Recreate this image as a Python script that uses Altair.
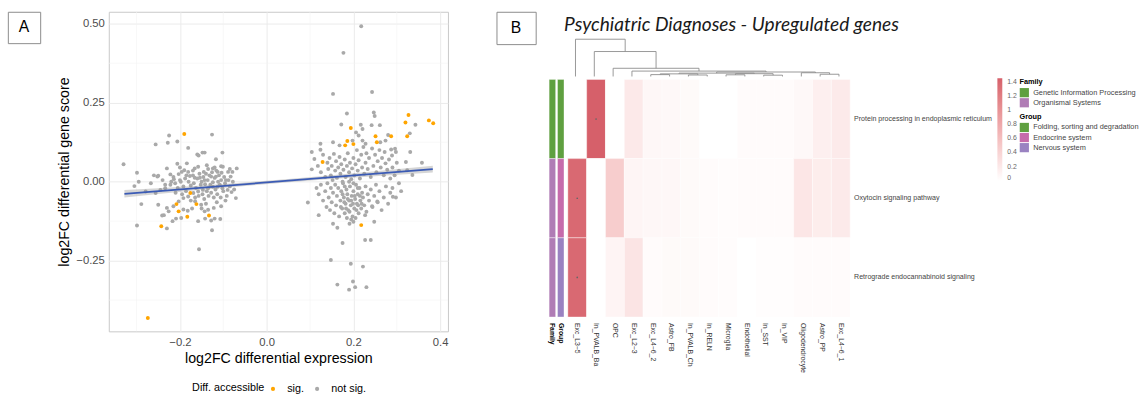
import altair as alt
import pandas as pd

# ---------------- Panel A data ----------------
grey_pts = [
    # left cluster
    (-0.330, 0.055), (-0.225, 0.146), (-0.256, 0.118), (-0.228, 0.123), (-0.206, 0.127), (-0.126, 0.149),
    (-0.181, 0.107), (-0.160, 0.086), (-0.157, 0.083), (-0.148, 0.092), (-0.143, 0.092), (-0.102, 0.092),
    (-0.117, 0.071), (-0.138, 0.052), (-0.206, 0.057), (-0.184, 0.058), (-0.230, 0.042), (-0.299, 0.028),
    (-0.295, 0.000), (-0.305, -0.014), (-0.267, -0.005), (-0.252, 0.016), (-0.250, 0.019), (-0.234, -0.010),
    (-0.222, 0.023), (-0.214, 0.008), (-0.203, 0.024), (-0.196, 0.031), (-0.190, 0.036), (-0.181, 0.031),
    (-0.166, 0.042), (-0.158, 0.047), (-0.145, 0.031), (-0.135, 0.040), (-0.124, 0.042), (-0.113, 0.031),
    (-0.105, 0.049), (-0.101, 0.047), (-0.089, 0.031), (-0.079, 0.031), (-0.069, 0.042), (-0.083, 0.016),
    (-0.094, 0.005), (-0.105, 0.005), (-0.117, 0.016), (-0.128, 0.016), (-0.143, 0.005), (-0.154, 0.0125),
    (-0.166, 0.0125), (-0.177, 0.018), (-0.188, 0.010), (-0.200, 0.005), (-0.211, -0.005), (-0.222, -0.010),
    (-0.234, -0.021), (-0.245, -0.026), (-0.256, -0.036), (-0.279, -0.031), (-0.289, -0.071), (-0.250, -0.073),
    (-0.230, -0.083), (-0.215, -0.078), (-0.203, -0.0625), (-0.192, -0.052), (-0.181, -0.047), (-0.169, -0.036),
    (-0.158, -0.031), (-0.147, -0.026), (-0.135, -0.021), (-0.124, -0.016), (-0.113, -0.016), (-0.102, -0.021),
    (-0.090, -0.026), (-0.081, -0.033), (-0.071, -0.052), (-0.105, -0.078), (-0.122, -0.083), (-0.135, -0.089),
    (-0.143, -0.094), (-0.151, -0.073), (-0.165, -0.062), (-0.172, -0.085), (-0.182, -0.092), (-0.192, -0.088),
    (-0.197, -0.115), (-0.209, -0.117), (-0.217, -0.125), (-0.226, -0.094), (-0.237, -0.106), (-0.241, -0.107),
    (-0.230, -0.148), (-0.299, -0.139), (-0.158, -0.125), (-0.142, -0.117), (-0.128, -0.123), (-0.120, -0.117),
    (-0.107, -0.118), (-0.126, -0.154), (-0.156, -0.214),
    (-0.215, 0.015), (-0.205, -0.020), (-0.198, 0.000), (-0.192, -0.015), (-0.186, -0.030), (-0.180, 0.000),
    (-0.175, -0.012), (-0.170, 0.020), (-0.168, -0.005), (-0.163, -0.020), (-0.160, 0.010), (-0.157, -0.045),
    (-0.155, 0.025), (-0.152, -0.010), (-0.150, 0.000), (-0.148, -0.040), (-0.146, 0.015), (-0.144, -0.055),
    (-0.142, -0.008), (-0.140, 0.025), (-0.138, -0.030), (-0.136, 0.005), (-0.134, -0.045), (-0.132, 0.020),
    (-0.130, -0.010), (-0.128, -0.035), (-0.126, 0.030), (-0.124, -0.002), (-0.122, -0.050), (-0.120, 0.012),
    (-0.118, -0.025), (-0.116, 0.035), (-0.114, -0.040), (-0.112, 0.000), (-0.110, 0.020), (-0.108, -0.010),
    (-0.106, -0.050), (-0.104, 0.028), (-0.100, -0.030), (-0.098, 0.015), (-0.096, -0.005), (-0.092, -0.045),
    (-0.088, 0.005), (-0.085, -0.015), (-0.078, 0.000), (-0.075, -0.025), (-0.185, 0.020), (-0.195, -0.040),
    (-0.210, -0.035), (-0.220, 0.000), (-0.175, -0.060), (-0.165, -0.050), (-0.140, -0.070), (-0.115, -0.065),
    (-0.095, -0.060), (-0.085, 0.040), (-0.120, 0.045), (-0.150, -0.085), (-0.170, 0.035), (-0.200, 0.045),
    (-0.240, 0.005), (-0.260, 0.020),
    # right cluster
    (0.218, 0.492), (0.177, 0.408), (0.153, 0.278), (0.243, 0.284), (0.185, 0.216), (0.247, 0.219),
    (0.249, 0.208), (0.172, 0.181), (0.217, 0.180), (0.242, 0.179), (0.261, 0.179), (0.343, 0.180),
    (0.330, 0.153), (0.221, 0.167), (0.206, 0.156), (0.212, 0.146), (0.274, 0.130), (0.280, 0.148),
    (0.262, 0.125), (0.228, 0.120), (0.221, 0.130), (0.198, 0.130), (0.153, 0.125), (0.168, 0.115),
    (0.124, 0.120), (0.124, 0.101), (0.104, 0.094), (0.287, 0.102), (0.296, 0.104), (0.298, 0.094),
    (0.289, 0.083), (0.272, 0.094), (0.331, 0.094), (0.321, 0.0625), (0.358, 0.060), (0.336, 0.021),
    (0.324, 0.036), (0.095, -0.066), (0.120, -0.106), (0.153, -0.133), (0.163, -0.146), (0.191, -0.133),
    (0.200, -0.127), (0.227, -0.106), (0.248, -0.127), (0.227, -0.185), (0.240, -0.185), (0.175, -0.194),
    (0.148, -0.248), (0.194, -0.260), (0.222, -0.269), (0.163, -0.326), (0.199, -0.316), (0.190, -0.342),
    (0.204, -0.334), (0.230, -0.334), (0.291, -0.048), (0.255, -0.0625), (0.243, -0.078), (0.104, 0.039),
    (0.110, 0.072), (0.118, 0.050), (0.125, 0.030), (0.130, 0.085), (0.135, 0.015), (0.140, 0.060),
    (0.142, 0.040), (0.145, 0.075), (0.148, 0.020), (0.150, 0.050), (0.152, 0.005), (0.155, 0.088),
    (0.158, 0.035), (0.160, 0.065), (0.162, 0.012), (0.165, 0.045), (0.168, 0.078), (0.170, 0.025),
    (0.172, 0.055), (0.175, 0.000), (0.177, 0.038), (0.180, 0.070), (0.182, 0.015), (0.185, 0.050),
    (0.187, 0.090), (0.190, 0.030), (0.192, 0.060), (0.195, 0.008), (0.197, 0.042), (0.200, 0.075),
    (0.202, 0.020), (0.205, 0.055), (0.208, 0.100), (0.210, 0.035), (0.212, 0.068), (0.215, 0.010),
    (0.218, 0.085), (0.220, 0.045), (0.223, 0.110), (0.225, 0.025), (0.228, 0.060), (0.230, 0.090),
    (0.233, 0.040), (0.236, 0.075), (0.240, 0.015), (0.243, 0.105), (0.246, 0.050), (0.250, 0.085),
    (0.253, 0.030), (0.256, 0.065), (0.260, 0.100), (0.263, 0.045), (0.266, 0.075), (0.270, 0.020),
    (0.274, 0.058), (0.278, 0.038), (0.282, 0.070), (0.285, 0.010), (0.290, 0.045), (0.295, 0.020),
    (0.300, 0.060), (0.305, 0.035),
    (0.115, -0.020), (0.120, -0.040), (0.125, -0.010), (0.130, -0.060), (0.135, -0.030), (0.138, -0.080),
    (0.140, -0.005), (0.143, -0.050), (0.146, -0.090), (0.148, -0.020), (0.150, -0.065), (0.153, -0.035),
    (0.156, -0.100), (0.158, -0.010), (0.160, -0.075), (0.162, -0.045), (0.165, -0.020), (0.167, -0.110),
    (0.170, -0.060), (0.172, -0.030), (0.174, -0.085), (0.176, -0.005), (0.178, -0.050), (0.180, -0.100),
    (0.182, -0.070), (0.184, -0.025), (0.186, -0.040), (0.188, -0.090), (0.190, -0.060), (0.192, -0.015),
    (0.194, -0.075), (0.196, -0.045), (0.198, -0.110), (0.200, -0.030), (0.202, -0.085), (0.204, -0.055),
    (0.206, -0.010), (0.208, -0.070), (0.210, -0.040), (0.212, -0.100), (0.214, -0.020), (0.216, -0.060),
    (0.218, -0.085), (0.220, -0.035), (0.222, -0.050), (0.225, -0.075), (0.228, -0.015), (0.230, -0.095),
    (0.233, -0.040), (0.236, -0.060), (0.240, -0.025), (0.244, -0.080), (0.248, -0.045), (0.252, -0.010),
    (0.256, -0.065), (0.260, -0.030), (0.265, -0.090), (0.270, -0.050), (0.275, -0.015), (0.280, -0.070),
    (0.285, -0.035), (0.290, -0.020), (0.298, -0.050), (0.305, -0.005), (0.310, -0.030),
    (0.171, -0.080), (0.179, -0.065), (0.183, -0.085), (0.187, -0.055), (0.191, -0.095), (0.195, -0.060),
    (0.199, -0.070), (0.203, -0.045), (0.207, -0.090), (0.211, -0.075), (0.215, -0.045), (0.219, -0.070),
    (0.185, -0.115), (0.195, -0.120), (0.205, -0.115), (0.175, -0.040), (0.210, -0.020), (0.190, 0.000),
    (0.200, -0.005), (0.180, -0.015),
]
sig_pts = [
    (-0.190, 0.151), (-0.176, -0.036), (-0.208, -0.071), (-0.162, -0.071), (-0.203, -0.094),
    (-0.183, -0.111), (-0.133, -0.107), (-0.243, -0.141), (-0.274, -0.432),
    (0.327, 0.211), (0.320, 0.1875), (0.374, 0.194), (0.384, 0.185), (0.324, 0.144), (0.287, 0.144),
    (0.251, 0.144), (0.254, 0.125), (0.194, 0.170), (0.186, 0.129), (0.200, 0.119), (0.181, 0.115),
    (0.218, -0.1375), (0.129, 0.0625),
]
acc_levels = ["sig.", "not sig."]
acc_colors = ["#FFA500", "#A9A9A9"]

fit_slope = 0.110
fit_intercept = -0.0024
fit_x = [-0.328, 0.383]
band_x = [-0.328, -0.25, -0.15, -0.05, 0.05, 0.15, 0.25, 0.383]
band_half = [0.012, 0.009, 0.007, 0.0055, 0.005, 0.006, 0.008, 0.011]

x_ticks = [-0.2, 0.0, 0.2, 0.4]
x_minor = [-0.3, -0.1, 0.1, 0.3]
y_ticks = [-0.25, 0.0, 0.25, 0.5]
y_minor = [-0.375, -0.125, 0.125, 0.375]
x_domain = [-0.364, 0.418]
y_domain = [-0.474, 0.538]

# ---------------- Panel B data ----------------
title_B = "Psychiatric Diagnoses - Upregulated genes"
cols = ["Exc_L3−5", "In_PVALB_Ba", "OPC", "Exc_L2−3", "Exc_L4−6_2", "Astro_FB", "In_PVALB_Ch",
        "In_RELN", "Microglia", "Endothelial", "In_SST", "In_VIP", "Oligodendrocyte", "Astro_PP", "Exc_L4−6_1"]
rows = ["Protein processing in endoplasmic reticulum", "Oxytocin signaling pathway",
        "Retrograde endocannabinoid signaling"]
vals = [
    [0.00, 1.45, 0.00, 0.20, 0.07, 0.06, 0.05, 0.00, 0.00, 0.04, 0.04, 0.04, 0.06, 0.15, 0.19],
    [1.37, 0.00, 0.46, 0.09, 0.07, 0.07, 0.05, 0.04, 0.03, 0.04, 0.04, 0.04, 0.23, 0.17, 0.19],
    [1.37, 0.00, 0.10, 0.25, 0.04, 0.05, 0.05, 0.04, 0.03, 0.00, 0.02, 0.02, 0.04, 0.04, 0.04],
]
sig_cells = [(0, 1), (1, 0), (2, 0)]
family = ["Genetic Information Processing", "Organismal Systems", "Organismal Systems"]
group = ["Folding, sorting and degradation", "Endocrine system", "Nervous system"]
fam_names = ["Genetic Information Processing", "Organismal Systems"]
fam_colors = ["#5FA040", "#B07CB5"]
grp_names = ["Folding, sorting and degradation", "Endocrine system", "Nervous system"]
grp_colors = ["#5FA040", "#C66BAB", "#9A82C1"]
legend_values = [0, 0.2, 0.4, 0.6, 0.8, 1.0, 1.2, 1.4]

# dendrogram: (left child, right child, height); leaves are 0..14, merges are "m<i>"
merges = [
    (4, 5, 0.05), (6, 7, 0.04), (8, 9, 0.045), (10, 11, 0.035), (13, 14, 0.06),
    ("m0", "m1", 0.07), ("m2", "m3", 0.075), ("m5", "m6", 0.09), (12, "m4", 0.10),
    ("m7", "m8", 0.12), (3, "m9", 0.145), (2, "m10", 0.22), (1, "m11", 0.67), (0, "m12", 1.0),
]

FONT = "Liberation Sans"

# ---------------- Panel A chart ----------------
pts_df = pd.DataFrame(
    [(x, y, "not sig.", 0) for x, y in grey_pts] + [(x, y, "sig.", 1) for x, y in sig_pts],
    columns=["x", "y", "acc", "ord"],
)
line_df = pd.DataFrame({"x": fit_x, "y": [fit_intercept + fit_slope * v for v in fit_x]})
band_df = pd.DataFrame({
    "x": band_x,
    "lo": [fit_intercept + fit_slope * v - h for v, h in zip(band_x, band_half)],
    "hi": [fit_intercept + fit_slope * v + h for v, h in zip(band_x, band_half)],
})

XT = "log2FC differential expression"
YT = "log2FC differential gene score"
xscale = alt.Scale(domain=x_domain, nice=False, zero=False)
yscale = alt.Scale(domain=y_domain, nice=False, zero=False)
xaxis = alt.Axis(values=x_ticks, format=".1f", grid=True, gridColor="#EBEBEB", gridWidth=1,
                 ticks=False, domain=False, labelFontSize=11.5, labelColor="#4D4D4D", labelFont=FONT,
                 labelPadding=5, titleFontSize=14.5, titleFont=FONT, titleFontWeight="normal",
                 titleColor="black", titlePadding=4)
yaxis = alt.Axis(values=y_ticks, format=".2f", grid=True, gridColor="#EBEBEB", gridWidth=1,
                 ticks=False, domain=False, labelFontSize=11.5, labelColor="#4D4D4D", labelFont=FONT,
                 labelPadding=4.5, titleFontSize=14.5, titleFont=FONT, titleFontWeight="normal",
                 titleColor="black", titlePadding=5)

minor_x = alt.Chart(pd.DataFrame({"x": x_minor})).mark_rule(color="#F3F3F3", strokeWidth=0.6).encode(
    x=alt.X("x:Q", scale=xscale, axis=xaxis, title=XT))
minor_y = alt.Chart(pd.DataFrame({"y": y_minor})).mark_rule(color="#F3F3F3", strokeWidth=0.6).encode(
    y=alt.Y("y:Q", scale=yscale, axis=yaxis, title=YT))
points = alt.Chart(pts_df).mark_circle(size=16, opacity=1).encode(
    x=alt.X("x:Q", scale=xscale, axis=xaxis, title=XT),
    y=alt.Y("y:Q", scale=yscale, axis=yaxis, title=YT),
    color=alt.Color("acc:N", scale=alt.Scale(domain=acc_levels, range=acc_colors),
                    legend=alt.Legend(orient="none", legendX=85, legendY=379, direction="horizontal",
                                      titleOrient="left", title="Diff. accessible", titleFontWeight="normal",
                                      titleFontSize=11, titleFont=FONT, titleColor="black",
                                      labelFontSize=11, labelFont=FONT, labelColor="black",
                                      symbolSize=18, symbolType="circle", symbolStrokeWidth=0,
                                      labelOffset=9, columnPadding=7, titlePadding=3)),
    order=alt.Order("ord:Q"),
)
band = alt.Chart(band_df).mark_area(color="#999999", opacity=0.4).encode(
    x=alt.X("x:Q", scale=xscale, axis=xaxis, title=XT),
    y=alt.Y("lo:Q", scale=yscale, axis=yaxis, title=YT),
    y2="hi:Q",
)
line = alt.Chart(line_df).mark_line(color="#3B5BB5", strokeWidth=1.8).encode(
    x=alt.X("x:Q", scale=xscale, axis=xaxis, title=XT),
    y=alt.Y("y:Q", scale=yscale, axis=yaxis, title=YT),
)
panelA = alt.layer(minor_x, minor_y, points, band, line).properties(
    width=346, height=326, view=alt.ViewBackground(stroke="#C8C8C8", strokeWidth=1))


def box(label, w, h):
    return alt.Chart(pd.DataFrame({"t": [label], "x": [0], "y": [0]})).mark_text(
        fontSize=16, font=FONT, color="black").encode(
        x=alt.X("x:Q", scale=alt.Scale(domain=[-1, 1]), axis=None),
        y=alt.Y("y:Q", scale=alt.Scale(domain=[-1, 1]), axis=None),
        text="t:N",
    ).properties(width=w, height=h, view=alt.ViewBackground(stroke="#8A8A8A", strokeWidth=1))


boxA = box("A", 33, 32)
boxB = box("B", 40, 33)

# ---------------- Panel B chart ----------------
heat_df = pd.DataFrame([(r, c, vals[i][j]) for i, r in enumerate(rows) for j, c in enumerate(cols)],
                       columns=["row", "col", "v"])
sig_df = pd.DataFrame([(rows[i], cols[j]) for i, j in sig_cells], columns=["row", "col"])
annot_df = pd.DataFrame([(r, "Family", f) for r, f in zip(rows, family)] +
                        [(r, "Group", g) for r, g in zip(rows, group)], columns=["row", "k", "val"])

hx = alt.X("col:N", sort=cols, scale=alt.Scale(domain=cols, paddingInner=0, paddingOuter=0),
           axis=alt.Axis(orient="bottom", labelAngle=90, ticks=False, domain=False, labelFontSize=7,
                         labelFont=FONT, labelColor="#333333", labelPadding=5.5, title=None))
hy = alt.Y("row:N", sort=rows, scale=alt.Scale(domain=rows, paddingInner=0, paddingOuter=0),
           axis=alt.Axis(orient="right", ticks=False, domain=False, labelFontSize=7.2, labelFont=FONT,
                         labelColor="#444444", labelPadding=3.5, labelLimit=300, title=None))


def cat_legend(title, y):
    return alt.Legend(orient="none", legendX=460.7, legendY=y, title=title, titleFontSize=7.5,
                      titleFont=FONT, titleFontWeight="bold", titleColor="black", titlePadding=2,
                      labelFontSize=7.5, labelFont=FONT, labelColor="#444444", labelOffset=4,
                      symbolType="square", symbolSize=88, symbolStrokeWidth=0, rowPadding=0.3,
                      symbolOpacity=1)


heat_rect = alt.Chart(heat_df).mark_rect(stroke="white", strokeWidth=0.4).encode(
    x=hx, y=hy,
    fill=alt.Fill("v:Q", scale=alt.Scale(domain=[0, 1.45], range=["#FFFFFF", "#D6606A"], interpolate="lab"),
                  legend=alt.Legend(orient="none", legendX=438.2, legendY=-1.2, direction="vertical",
                                    gradientLength=104.6, gradientThickness=5, values=legend_values,
                                    format=".1~f", labelFontSize=7, labelFont=FONT, labelColor="#666666",
                                    labelOffset=5, title=None, gradientStrokeWidth=0)),
)
heat_dots = alt.Chart(sig_df).mark_circle(size=3, color="#666666", opacity=1).encode(x=hx, y=hy)
# invisible marks that only carry the Family / Group legends
fam_key = alt.Chart(annot_df).transform_filter(alt.datum.k == "Family").mark_square(opacity=0, size=1).encode(
    y=hy, color=alt.Color("val:N", scale=alt.Scale(domain=fam_names, range=fam_colors),
                          legend=cat_legend("Family", -1)))
grp_key = alt.Chart(annot_df).transform_filter(alt.datum.k == "Group").mark_square(opacity=0, size=1).encode(
    y=hy, color=alt.Color("val:N", scale=alt.Scale(domain=grp_names, range=grp_colors),
                          legend=cat_legend("Group", 34.5)))
heat = alt.layer(heat_rect, heat_dots, fam_key, grp_key).resolve_scale(color="independent").properties(
    width=288, height=242.4)

ax = alt.X("k:N", sort=["Family", "Group"],
           scale=alt.Scale(domain=["Family", "Group"], paddingInner=0.22, paddingOuter=0),
           axis=alt.Axis(orient="bottom", labelAngle=90, ticks=False, domain=False, labelFontSize=7,
                         labelFont=FONT, labelColor="black", labelFontWeight="bold", labelPadding=5.5,
                         title=None))
ay = alt.Y("row:N", sort=rows, scale=alt.Scale(domain=rows, paddingInner=0, paddingOuter=0), axis=None)
fam_layer = alt.Chart(annot_df).transform_filter(alt.datum.k == "Family").mark_rect(
    stroke="white", strokeWidth=0.4).encode(
    x=ax, y=ay,
    color=alt.Color("val:N", scale=alt.Scale(domain=fam_names, range=fam_colors), legend=None))
grp_layer = alt.Chart(annot_df).transform_filter(alt.datum.k == "Group").mark_rect(
    stroke="white", strokeWidth=0.4).encode(
    x=ax, y=ay,
    color=alt.Color("val:N", scale=alt.Scale(domain=grp_names, range=grp_colors), legend=None))
annot = alt.layer(fam_layer, grp_layer).resolve_scale(color="independent").properties(
    width=15.2, height=242.4)

# dendrogram segments from merge list
pos, hgt, segs = {}, {}, []
for i in range(len(cols)):
    pos[i] = i + 0.5
    hgt[i] = 0.0
for m, (a, b, h) in enumerate(merges):
    key = "m%d" % m
    for c in (a, b):
        segs.append((pos[c], pos[c], hgt[c], h))
    segs.append((pos[a], pos[b], h, h))
    pos[key] = (pos[a] + pos[b]) / 2
    hgt[key] = h
seg_df = pd.DataFrame(segs, columns=["x", "x2", "y", "y2"])
col_w = 288 / len(cols)
lead = (15.2 + 2.1) / col_w
dendro = alt.Chart(seg_df).mark_rule(color="#8C8C8C", strokeWidth=0.9).encode(
    x=alt.X("x:Q", scale=alt.Scale(domain=[-lead, len(cols)], nice=False, zero=False), axis=None),
    x2="x2:Q",
    y=alt.Y("y:Q", scale=alt.Scale(domain=[0, 1.0], nice=False, zero=False), axis=None),
    y2="y2:Q",
).properties(width=305.3, height=38)

title_chart = alt.Chart(pd.DataFrame({"t": [title_B], "x": [0], "y": [0]})).mark_text(
    align="left", baseline="alphabetic", font="Lato", fontStyle="italic", fontSize=19.5,
    color="#1A1A1A", dx=15.3).encode(
    x=alt.X("x:Q", scale=alt.Scale(domain=[0, 1]), axis=None),
    y=alt.Y("y:Q", scale=alt.Scale(domain=[-0.231, 0.769], nice=False, zero=False), axis=None),
    text="t:N",
).properties(width=305.3, height=26)

body = alt.hconcat(annot, heat, spacing=2.1).resolve_scale(color="independent", fill="independent")
panelB = alt.vconcat(title_chart, dendro, body, spacing=0).resolve_scale(color="independent", fill="independent")

left = alt.hconcat(boxA, panelA, spacing=14).resolve_scale(color="independent", fill="independent")
right = alt.hconcat(boxB, panelB, spacing=11.7).resolve_scale(color="independent", fill="independent")
chart = alt.hconcat(left, right, spacing=47.5).resolve_scale(color="independent", fill="independent").properties(
    padding={"left": 7, "top": 7, "right": 0, "bottom": 0}
).configure(background="white").configure_view(stroke="transparent")

chart.save("out.html", embed_options={"renderer": "svg", "actions": False})
